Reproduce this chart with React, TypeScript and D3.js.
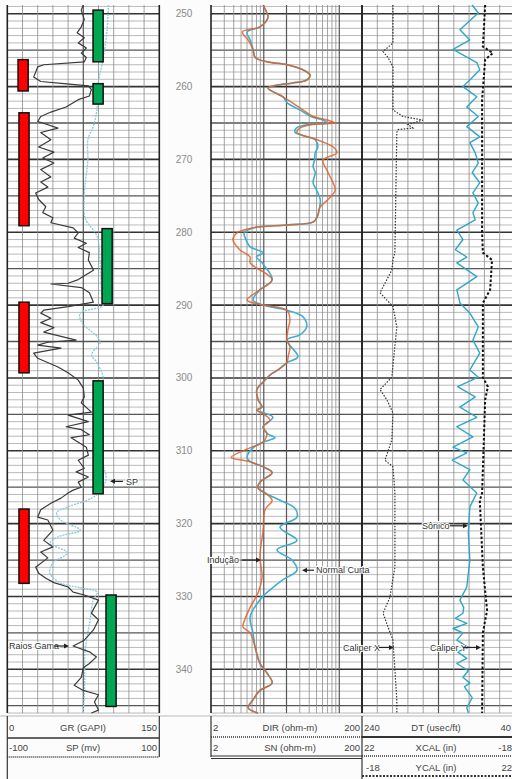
import React from 'react';
import * as d3 from 'd3';

// depth window of the log (m) and depth labels
const depthRange = [248.8, 346];
const depthLabels = [250, 260, 270, 280, 290, 300, 310, 320, 330, 340];

// track 1: gamma ray (GAPI) and SP (mV) as [depth, value]
const grCurve: [number, number][] = [
  [248.8, 75], [249.5, 73], [250.8, 76], [251.8, 73], [252.6, 69], [253.3, 76], [254.0, 70], [254.7, 78],
  [255.4, 73], [256.0, 78], [256.6, 76], [257.0, 36], [257.3, 30], [258.7, 26], [259.3, 33], [259.6, 56],
  [259.9, 80], [260.4, 83], [261.3, 81], [261.8, 70], [262.8, 58], [263.5, 43], [264.1, 33], [264.8, 30],
  [265.0, 35], [265.7, 50], [266.3, 33], [267.3, 43], [268.3, 31], [269.0, 46], [269.8, 35], [270.5, 46],
  [271.4, 33], [272.4, 43], [273.1, 33], [273.8, 40], [274.6, 28], [275.5, 31], [276.5, 38], [277.3, 35],
  [278.0, 45], [278.7, 43], [279.4, 65], [280.1, 70], [280.8, 66], [281.5, 78], [282.1, 70], [282.8, 81],
  [283.8, 80], [285.2, 85], [286.5, 70], [287.0, 60], [287.1, 43], [287.6, 73], [288.3, 81], [289.6, 85],
  [290.2, 60], [290.7, 36], [291.1, 33], [291.8, 43], [292.4, 33], [293.1, 46], [293.7, 36], [294.8, 68],
  [295.1, 40], [295.5, 30], [295.9, 53], [296.6, 26], [297.3, 30], [298.5, 50], [299.3, 60], [300.3, 70],
  [301.4, 75], [302.6, 76], [303.4, 73], [304.7, 83], [305.1, 60], [306.0, 80], [306.7, 58], [307.1, 73],
  [307.8, 81], [308.2, 63], [309.5, 78], [310.6, 80], [311.3, 70], [312.4, 76], [312.9, 68], [313.6, 80],
  [314.3, 70], [315.0, 73], [315.4, 65], [315.8, 60], [316.5, 53], [317.2, 43], [318.1, 33], [319.1, 30],
  [319.5, 40], [320.9, 45], [322.3, 36], [323.2, 45], [323.9, 33], [324.7, 40], [326.0, 28], [326.8, 31],
  [327.5, 38], [328.1, 46], [328.7, 60], [329.4, 65], [329.8, 76], [330.5, 90], [331.5, 86], [332.3, 83],
  [333.2, 90], [334.6, 85], [336.0, 76], [336.8, 65], [337.6, 81], [338.3, 88], [339.2, 81], [339.8, 75],
  [341.1, 73], [342.2, 66], [342.9, 75], [343.5, 90], [344.5, 86], [345.6, 90], [346.0, 83],
];

const spCurve: [number, number][] = [
  [248.8, 33], [252.6, 31], [256.7, 25], [260.0, 19], [263.2, 18], [265.5, 13], [267.3, 6], [270.1, 6],
  [273.8, 2], [276.5, 1], [277.9, 2], [278.6, 5], [280.5, 18], [284.0, 22], [288.0, 24], [290.0, 26],
  [291.1, -4], [292.4, -2], [294.4, 19], [295.2, 22], [296.8, 11], [297.9, 18], [299.9, 26], [302.0, 22],
  [306.0, 20], [310.0, 19], [313.8, 30], [315.8, 20], [316.8, 5], [317.5, -15], [318.5, -35], [319.5, -30],
  [320.9, -4], [321.8, -33], [322.7, -44], [324.0, -21], [325.4, -40], [326.8, -44], [328.1, -31],
  [328.8, -4], [329.4, 18], [330.5, 13], [333.2, 9], [337.8, 2], [341.5, 2], [346.0, 0],
];

// lithology bars: [top, base, left edge in GAPI]
const shaleBars: [number, number, number][] = [
  [256.3, 260.6, 10.6], [263.6, 279.1, 11.5], [289.6, 299.3, 11.5], [318.0, 328.2, 11.5],
];
const sandBars: [number, number, number][] = [
  [249.5, 256.6, 84.6], [259.6, 262.4, 84.6], [279.5, 289.8, 93.5], [300.4, 315.9, 84.6], [329.8, 345.1, 97.4],
];

// track 2: deep induction (DIR) and short normal (SN), ohm-m
const dirCurve: [number, number][] = [
  [248.8, 9.8], [249.9, 11.0], [250.5, 11.4], [251.8, 8.9], [252.5, 5.2], [253.6, 6.2], [254.9, 7.2],
  [256.0, 7.7], [256.6, 11.0], [257.0, 20.3], [257.7, 33], [258.4, 41], [259.1, 37], [259.5, 24.4],
  [259.8, 15], [260.2, 11.4], [260.7, 13.2], [261.4, 18], [262.2, 23.7], [263.2, 33], [264.1, 45],
  [264.6, 69], [265.0, 88], [265.2, 45], [265.7, 30], [266.3, 27.5], [267.3, 51], [268.3, 83], [269.1, 93],
  [270.1, 61], [271.8, 71], [274.2, 88], [275.5, 71], [276.5, 56], [277.9, 51], [278.6, 45], [279.0, 20],
  [279.4, 7.2], [280.1, 4.4], [281.0, 3.9], [282.4, 4.8], [283.4, 6.6], [284.2, 6.6], [286.5, 12.9],
  [287.9, 8.9], [289.3, 6.0], [290.0, 9.8], [290.7, 20.3], [292.0, 22.2], [293.4, 20.9], [294.8, 20.3],
  [295.7, 22.2], [297.1, 21], [297.9, 20.3], [298.9, 15.4], [299.6, 12.1], [300.7, 9.5], [301.6, 8.1],
  [303.0, 8.4], [304.0, 9.5], [304.4, 8.1], [305.1, 10.4], [305.8, 12.1], [306.7, 9.8], [307.6, 11.0],
  [308.8, 9.8], [309.6, 6.6], [310.9, 3.7], [311.5, 6.6], [312.2, 9.8], [313.0, 12.9], [314.3, 8.9],
  [315.1, 8.4], [315.8, 10.4], [316.8, 12.9], [318.1, 10.4], [320.9, 9.8], [324.6, 8.9], [327.3, 9.5],
  [329.5, 8.4], [331.5, 6.6], [333.2, 5.6], [334.2, 5.3], [335.0, 6.6], [337.0, 7.7], [339.2, 8.9],
  [340.5, 11.0], [341.9, 12.9], [342.9, 8.9], [344.2, 7.2], [345.3, 6.2], [346.0, 8.4],
];

const snCurve: [number, number][] = [
  [248.8, 9.8], [249.9, 11.0], [250.5, 11.4], [251.8, 8.9], [252.5, 6.0], [253.6, 6.6], [254.9, 7.2],
  [256.0, 7.7], [256.6, 11.0], [257.0, 20.3], [257.7, 33], [258.4, 41], [259.1, 37], [259.5, 24.4],
  [259.8, 15], [260.2, 11.4], [260.7, 13.2], [261.4, 18], [262.2, 20.3], [263.2, 30], [264.1, 42],
  [264.6, 60], [265.0, 70], [265.2, 40], [265.7, 27], [266.3, 26], [267.3, 48], [268.3, 52], [269.1, 48],
  [270.1, 47], [271.0, 45], [271.8, 48], [273.2, 45], [274.2, 50], [275.5, 56], [276.5, 55], [277.9, 51],
  [278.6, 45], [279.0, 20], [279.4, 7.2], [280.1, 5.5], [281.0, 5.8], [282.0, 6.6], [282.8, 9.8],
  [283.4, 8.0], [284.2, 9.5], [286.5, 12.9], [287.9, 8.9], [289.3, 7.2], [290.0, 9.8], [290.7, 20.3],
  [291.6, 33], [293.0, 37], [294.1, 30], [294.8, 20.3], [297.1, 28.4], [297.9, 20.3], [298.9, 15.4],
  [299.6, 12.1], [300.7, 9.5], [301.6, 8.1], [303.0, 8.4], [304.0, 9.5], [304.4, 8.1], [305.4, 13.2],
  [306.7, 9.8], [307.6, 11.0], [308.2, 14.1], [308.8, 9.8], [309.6, 7.2], [310.9, 6.0], [311.5, 6.6],
  [312.2, 9.8], [313.0, 12.9], [314.3, 8.9], [315.1, 8.4], [315.8, 10.4], [316.8, 16.4], [317.9, 25.9],
  [319.1, 27.5], [320.5, 16.4], [322.3, 27.5], [323.6, 15], [325.0, 23.7], [326.4, 27.5], [327.7, 18],
  [329.1, 12.1], [330.1, 9.5], [332.8, 6.6], [335.0, 7.2], [337.0, 7.7], [339.2, 8.9], [340.5, 11.0],
  [341.9, 12.9], [342.9, 8.9], [344.2, 7.2], [345.3, 6.2], [346.0, 8.4],
];

// track 3: sonic (usec/ft) and calipers (in)
const dtCurve: [number, number][] = [
  [248.8, 96], [249.9, 88], [252.2, 112], [253.6, 99], [254.9, 121], [256.7, 90], [257.7, 86], [259.1, 99],
  [260.0, 108], [261.4, 90], [262.8, 103], [264.1, 88], [265.5, 103], [266.9, 86], [267.7, 99], [269.1, 92],
  [270.5, 88], [271.8, 96], [273.2, 86], [274.6, 95], [276.0, 88], [277.3, 95], [278.3, 92], [279.7, 116],
  [281.0, 108], [282.4, 118], [283.4, 103], [284.2, 116], [286.1, 90], [287.9, 116], [289.7, 112],
  [291.1, 99], [293.0, 88], [294.8, 95], [296.6, 86], [298.9, 99], [299.9, 88], [301.2, 115], [302.6, 92],
  [304.0, 112], [305.4, 90], [306.7, 116], [308.1, 95], [309.5, 121], [310.3, 103], [311.3, 122],
  [312.6, 99], [314.0, 108], [315.8, 90], [317.7, 99], [321.3, 101], [325.0, 99], [328.7, 103],
  [330.5, 112], [331.5, 107], [332.3, 108], [333.0, 118], [333.7, 103], [334.4, 121], [335.0, 108],
  [336.0, 116], [337.0, 101], [337.6, 115], [338.5, 103], [339.2, 116], [340.2, 101], [341.1, 108],
  [341.9, 99], [342.4, 106], [343.9, 96], [345.3, 103], [346.0, 101],
];

const xcalCurve: [number, number][] = [
  [248.8, 13.9], [254.0, 13.9], [255.2, 16.5], [256.0, 15.2], [257.3, 13.9], [263.2, 13.9], [264.1, 11.3],
  [264.6, 6.1], [265.2, 10.0], [265.7, 8.7], [265.9, 12.6], [266.3, 12.9], [282.8, 13.4], [283.8, 13.9],
  [285.2, 14.2], [288.3, 17.3], [290.2, 13.9], [293.0, 12.9], [299.9, 14.2], [301.6, 17.3], [303.0, 15.5],
  [304.8, 13.9], [308.5, 14.2], [311.3, 16.0], [312.2, 13.9], [315.8, 13.4], [326.0, 13.4], [330.1, 14.7],
  [332.3, 16.5], [334.2, 15.2], [336.0, 13.9], [344.2, 12.9], [346.0, 12.9],
];

const ycalCurve: [number, number][] = [
  [248.8, 14.2], [254.5, 13.6], [255.4, 16.2], [256.3, 14.2], [261.8, 13.4], [280.1, 13.4], [282.8, 13.6],
  [283.8, 16.0], [287.9, 15.5], [289.7, 13.6], [299.9, 13.6], [301.2, 14.9], [303.0, 14.2], [315.8, 13.4],
  [316.8, 12.8], [326.0, 13.6], [331.9, 14.7], [335.0, 13.6], [346.0, 13.4],
];

// curve call-outs: label, depth, text x, arrow from, arrow to
const callouts: [string, number, number, number, number][] = [
  ['SP', 314.2, 126, 123, 110],
  ['Raios Gama', 336.8, 9, 54, 69],
  ['Indução', 325.0, 207, 242, 261],
  ['Normal Curta', 326.4, 316, 314, 302],
  ['Sônico', 320.3, 422, 450, 468],
  ['Caliper X', 337.0, 343, 379, 394],
  ['Caliper Y', 337.0, 430, 463, 481],
];

const FONT = '"Liberation Sans Narrow", "Liberation Sans", Arial, sans-serif';

export default function App() {
  const y = d3.scaleLinear().domain(depthRange).range([5, 713]);
  const xGR = d3.scaleLinear().domain([0, 150]).range([7.3, 159.3]);
  const xSP = d3.scaleLinear().domain([-100, 100]).range([7.3, 159.3]);
  const xRes = d3.scaleLog().domain([2, 200]).range([211, 362]);
  const xDT = d3.scaleLinear().domain([240, 40]).range([362, 515]);
  const xXCAL = d3.scaleLinear().domain([22, -18]).range([362, 515]);
  const xYCAL = d3.scaleLinear().domain([-18, 22]).range([362, 515]);

  const path = (xs: any, data: [number, number][], smooth = false) =>
    d3.line<[number, number]>()
      .x(d => xs(d[1]))
      .y(d => y(d[0]))
      .curve(smooth ? d3.curveCatmullRom.alpha(0.5) : d3.curveLinear)(data) || '';

  const tracks: [number, number][] = [[7.3, 159.3], [211, 362], [362, 515]];
  const top = y(depthRange[0]);
  const bot = y(depthRange[1]);

  // horizontal grid, every metre
  const hLines = d3.range(249, 347).map(d => {
    const major = d % 5 === 0;
    return (
      <g key={'h' + d}>
        {tracks.map((t, i) => (
          <line key={i} x1={t[0]} x2={t[1]} y1={y(d)} y2={y(d)}
            stroke={d % 10 === 0 ? '#333' : major ? '#555' : '#a8a8a8'}
            strokeWidth={d % 10 === 0 ? 1.6 : major ? 1.3 : 0.8} />
        ))}
      </g>
    );
  });

  const grTicks = d3.range(0, 151, 15);
  const resTicks = xRes.ticks();
  const dtTicks = d3.range(240, 39, -20);

  const vLine = (x: number, key: string, strong: number) => (
    <line key={key} x1={x} x2={x} y1={top} y2={bot}
      stroke={strong === 2 ? '#222' : strong === 1 ? '#555' : '#8a8a8a'}
      strokeWidth={strong === 2 ? 1.6 : strong === 1 ? 1.2 : 0.8} />
  );

  const arrow = (x1: number, x2: number, yy: number, key: string) => {
    const dir = x2 > x1 ? 1 : -1;
    return (
      <g key={key}>
        <line x1={x1} x2={x2 - dir * 3} y1={yy} y2={yy} stroke="#222" strokeWidth={1.2} />
        <path d={`M${x2},${yy} L${x2 - dir * 5},${yy - 2.5} L${x2 - dir * 5},${yy + 2.5} Z`} fill="#222" />
      </g>
    );
  };

  const hdr = { fontFamily: FONT, fontSize: 9.5, fill: '#444' } as const;

  return (
    <svg width={512} height={779} style={{ position: 'absolute', left: 0, top: 0, background: '#fcfcfc' }}>
      <rect x={0} y={0} width={512} height={779} fill="#fcfcfc" />
      <rect x={7.3} y={top} width={152} height={bot - top} fill="#fff" />
      <rect x={211} y={top} width={304} height={bot - top} fill="#fff" />

      {hLines}
      {grTicks.map(t => vLine(xGR(t), 'g' + t, t === 0 || t === 150 ? 2 : t === 75 ? 1 : 0))}
      {resTicks.map(t => vLine(xRes(t), 'r' + t, t === 2 || t === 200 ? 2 : t === 20 || t === 10 || t === 100 ? 1 : 0))}
      {dtTicks.map(t => vLine(xDT(t), 'd' + t, t === 240 ? 2 : t === 140 ? 1 : 0))}

      {/* depth labels */}
      {depthLabels.map(d => (
        <text key={d} x={184} y={y(d)} dy="0.35em" textAnchor="middle"
          style={{ fontFamily: FONT, fontSize: 10, fill: '#8a8a8a' }}>{d}</text>
      ))}

      {/* track 1 curves */}
      <path d={path(xSP, spCurve, true)} fill="none" stroke="#86cbdb" strokeWidth={1.3} strokeDasharray="2,1" />
      <path d={path(xGR, grCurve)} fill="none" stroke="#3a3a3a" strokeWidth={1.2} strokeLinejoin="round" />

      {shaleBars.map((b, i) => (
        <rect key={'s' + i} x={xGR(b[2])} y={y(b[0])} width={xGR(b[2] + 10) - xGR(b[2])} height={y(b[1]) - y(b[0])}
          fill="#ff0000" stroke="#111" strokeWidth={1.5} />
      ))}
      {sandBars.map((b, i) => (
        <rect key={'a' + i} x={xGR(b[2])} y={y(b[0])} width={xGR(b[2] + 10) - xGR(b[2])} height={y(b[1]) - y(b[0])}
          fill="#00a651" stroke="#111" strokeWidth={1.5} />
      ))}

      {/* track 2 curves */}
      <path d={path(xRes, snCurve, true)} fill="none" stroke="#3eaed0" strokeWidth={1.6} />
      <path d={path(xRes, dirCurve, true)} fill="none" stroke="#e0602a" strokeWidth={1.5} strokeOpacity={0.85} />

      {/* track 3 curves */}
      <path d={path(xXCAL, xcalCurve)} fill="none" stroke="#333" strokeWidth={1.2} strokeDasharray="1.5,1.5" />
      <path d={path(xDT, dtCurve)} fill="none" stroke="#2fa6c9" strokeWidth={1.4} strokeLinejoin="round" />
      <path d={path(xYCAL, ycalCurve)} fill="none" stroke="#111" strokeWidth={2} strokeDasharray="2.5,2" />

      {/* call-outs */}
      {callouts.map(([label, d, tx, a1, a2]) => (
        <g key={label}>
          <text x={tx} y={y(d)} dy="0.35em"
            style={{ fontFamily: FONT, fontSize: 9, fill: '#333', paintOrder: 'stroke', stroke: '#fff', strokeWidth: 2 }}>{label}</text>
          {arrow(a1, a2, y(d), label + 'a')}
        </g>
      ))}

      {/* header */}
      <line x1={0} x2={512} y1={716} y2={716} stroke="#bbb" strokeWidth={1} />
      <line x1={7.3} x2={7.3} y1={716} y2={779} stroke="#333" strokeWidth={1.2} />
      <line x1={159.3} x2={159.3} y1={716} y2={757} stroke="#333" strokeWidth={1.2} />
      <line x1={211} x2={211} y1={716} y2={757} stroke="#333" strokeWidth={1.2} />
      <line x1={362} x2={362} y1={716} y2={779} stroke="#333" strokeWidth={1.2} />

      <text x={9} y={731} style={hdr}>0</text>
      <text x={83} y={731} textAnchor="middle" style={hdr}>GR (GAPI)</text>
      <text x={157} y={731} textAnchor="end" style={hdr}>150</text>
      <line x1={7.3} x2={159.3} y1={738} y2={738} stroke="#333" strokeWidth={1.5} />
      <text x={9} y={751} style={hdr}>-100</text>
      <text x={83} y={751} textAnchor="middle" style={hdr}>SP (mv)</text>
      <text x={157} y={751} textAnchor="end" style={hdr}>100</text>
      <line x1={7.3} x2={159.3} y1={757} y2={757} stroke="#333" strokeWidth={1.5} strokeDasharray="1,1" />

      <text x={213} y={731} style={hdr}>2</text>
      <text x={290} y={731} textAnchor="middle" style={hdr}>DIR (ohm-m)</text>
      <text x={360} y={731} textAnchor="end" style={hdr}>200</text>
      <line x1={211} x2={362} y1={737} y2={737} stroke="#333" strokeWidth={1.5} strokeDasharray="1,1" />
      <text x={213} y={751} style={hdr}>2</text>
      <text x={290} y={751} textAnchor="middle" style={hdr}>SN (ohm-m)</text>
      <text x={360} y={751} textAnchor="end" style={hdr}>200</text>
      <line x1={211} x2={362} y1={756} y2={756} stroke="#333" strokeWidth={1.2} />
      <line x1={211} x2={362} y1={758.5} y2={758.5} stroke="#333" strokeWidth={1.2} />

      <text x={364} y={731} style={hdr}>240</text>
      <text x={436} y={731} textAnchor="middle" style={hdr}>DT (usec/ft)</text>
      <text x={511} y={731} textAnchor="end" style={hdr}>40</text>
      <line x1={362} x2={512} y1={737} y2={737} stroke="#333" strokeWidth={2.2} />
      <text x={364} y={751} style={hdr}>22</text>
      <text x={436} y={751} textAnchor="middle" style={hdr}>XCAL (in)</text>
      <text x={512} y={751} textAnchor="end" style={hdr}>-18</text>
      <line x1={362} x2={512} y1={756} y2={756} stroke="#333" strokeWidth={1.3} strokeDasharray="1,1" />
      <text x={366} y={771} style={hdr}>-18</text>
      <text x={436} y={771} textAnchor="middle" style={hdr}>YCAL (in)</text>
      <text x={512} y={771} textAnchor="end" style={hdr}>22</text>
      <line x1={362} x2={512} y1={776} y2={776} stroke="#333" strokeWidth={2} strokeDasharray="2,1.5" />
    </svg>
  );
}
